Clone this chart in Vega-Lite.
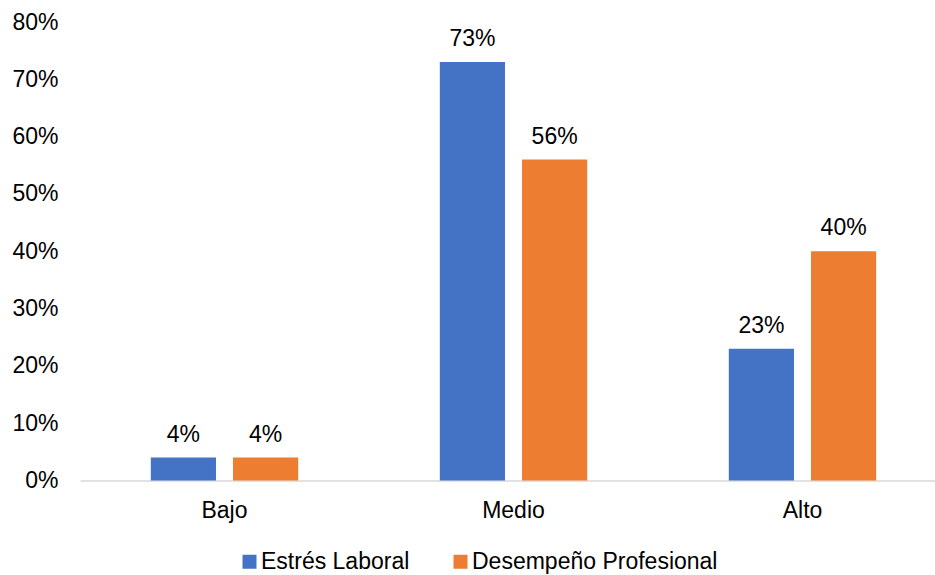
{
  "$schema": "https://vega.github.io/schema/vega-lite/v6.json",
  "width": 855,
  "height": 458.5,
  "autosize": {"type": "none"},
  "padding": {"left": 80, "top": 22, "right": 0, "bottom": 94.5},
  "config": {
    "view": {"stroke": null},
    "font": "Liberation Sans",
    "axis": {"labelFont": "Liberation Sans", "labelColor": "#000000", "labelFontSize": 23, "ticks": false, "grid": false, "title": null},
    "legend": {"labelFont": "Liberation Sans"}
  },
  "data": {
    "values": [
      {"Nivel": "Bajo", "Serie": "Estrés Laboral", "Valor": 0.04},
      {"Nivel": "Bajo", "Serie": "Desempeño Profesional", "Valor": 0.04},
      {"Nivel": "Medio", "Serie": "Estrés Laboral", "Valor": 0.73},
      {"Nivel": "Medio", "Serie": "Desempeño Profesional", "Valor": 0.56},
      {"Nivel": "Alto", "Serie": "Estrés Laboral", "Valor": 0.23},
      {"Nivel": "Alto", "Serie": "Desempeño Profesional", "Valor": 0.40}
    ]
  },
  "encoding": {
    "x": {
      "field": "Nivel",
      "type": "nominal",
      "sort": ["Bajo", "Medio", "Alto"],
      "scale": {"range": [0, 867], "paddingInner": 0.49, "paddingOuter": 0.245},
      "axis": {"domain": true, "domainColor": "#d9d9d9", "domainWidth": 1.5, "labelAngle": 0, "labelPadding": 19}
    },
    "xOffset": {
      "field": "Serie",
      "type": "nominal",
      "sort": ["Estrés Laboral", "Desempeño Profesional"],
      "scale": {"paddingInner": 0.207, "paddingOuter": 0}
    },
    "y": {
      "field": "Valor",
      "type": "quantitative",
      "scale": {"domain": [0, 0.8], "nice": false},
      "axis": {"domain": false, "values": [0, 0.1, 0.2, 0.3, 0.4, 0.5, 0.6, 0.7, 0.8], "format": ".0%", "labelPadding": 22}
    }
  },
  "layer": [
    {
      "mark": {"type": "bar"},
      "encoding": {
        "color": {
          "field": "Serie",
          "type": "nominal",
          "sort": ["Estrés Laboral", "Desempeño Profesional"],
          "scale": {"domain": ["Estrés Laboral", "Desempeño Profesional"], "range": ["#4472C4", "#ED7D31"]},
          "legend": {
            "title": null,
            "orient": "none",
            "legendX": 158,
            "legendY": 528,
            "direction": "horizontal",
            "symbolType": "square",
            "symbolSize": 196,
            "symbolStrokeWidth": 0,
            "labelFontSize": 23,
            "labelColor": "#000000",
            "labelOffset": 0,
            "labelLimit": 500,
            "columnPadding": 39
          }
        }
      }
    },
    {
      "mark": {"type": "text", "baseline": "alphabetic", "dy": -16, "fontSize": 23, "color": "#000000"},
      "encoding": {
        "text": {"field": "Valor", "type": "quantitative", "format": ".0%"}
      }
    }
  ]
}
